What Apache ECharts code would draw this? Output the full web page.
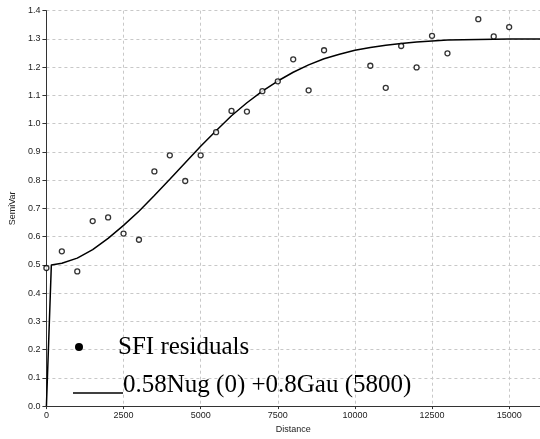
<!DOCTYPE html>
<html>
<head>
<meta charset="utf-8">
<script src="https://cdn.jsdelivr.net/npm/echarts@6/dist/echarts.min.js"></script>
<style>
html,body{margin:0;padding:0;background:#fff;}
#chart{width:540px;height:439px;}
</style>
</head>
<body>
<div id="chart"></div>
<script>
// Empirical semivariogram points (distance, semivariance)
var pointDistances = [0, 500, 1000, 1500, 2000, 2500, 3000, 3500, 4000, 4500, 5000, 5500, 6000, 6500, 7000, 7500, 8000, 8500, 9000, 10500, 11000, 11500, 12000, 12500, 13000, 14000, 14500, 15000];
var pointValues = [0.489, 0.548, 0.477, 0.655, 0.668, 0.611, 0.589, 0.831, 0.888, 0.797, 0.888, 0.970, 1.045, 1.043, 1.115, 1.150, 1.228, 1.118, 1.260, 1.205, 1.127, 1.275, 1.199, 1.311, 1.249, 1.370, 1.309, 1.342];

// Fitted model curve
var curveDistances = [0, 160, 500, 1000, 1500, 2000, 2500, 3000, 3500, 4000, 4500, 5000, 5500, 6000, 6500, 7000, 7500, 8000, 8500, 9000, 9500, 10000, 10500, 11000, 11500, 12000, 12500, 13000, 14000, 15000, 16000];
var curveValues = [0, 0.500, 0.506, 0.524, 0.554, 0.594, 0.640, 0.690, 0.746, 0.803, 0.862, 0.920, 0.975, 1.028, 1.074, 1.115, 1.151, 1.182, 1.208, 1.230, 1.246, 1.260, 1.270, 1.278, 1.284, 1.289, 1.293, 1.296, 1.298, 1.300, 1.300];

var seriesNames = ['SFI residuals', '0.58Nug (0) +0.8Gau (5800)'];
var xAxisTitle = 'Distance';
var yAxisTitle = 'SemiVar';

var scatterData = pointDistances.map(function (d, i) { return [d, pointValues[i]]; });
var lineData = curveDistances.map(function (d, i) { return [d, curveValues[i]]; });

var chart = echarts.init(document.getElementById('chart'), null, {renderer: 'canvas'});
var axisFont = 'Liberation Sans';
chart.setOption({
  animation: false,
  backgroundColor: '#ffffff',
  grid: {left: 43.5, right: 0, top: 10.7, bottom: 27.3, containLabel: false},
  xAxis: {
    type: 'value', min: 0, max: 16000, interval: 2500,
    name: xAxisTitle, nameLocation: 'middle', nameGap: 17,
    nameTextStyle: {fontFamily: axisFont, fontSize: 9, color: '#222'},
    axisLine: {show: true, lineStyle: {color: '#333', width: 1}},
    axisTick: {show: true, length: 3, lineStyle: {color: '#333'}},
    axisLabel: {fontFamily: axisFont, fontSize: 9, color: '#222', margin: 5, showMaxLabel: false,
      formatter: function (v) { return String(Math.round(v)); }},
    splitLine: {show: true, lineStyle: {color: '#c8c8c8', type: [3, 3], width: 1}}
  },
  yAxis: {
    type: 'value', min: 0, max: 1.4, interval: 0.1,
    name: yAxisTitle, nameLocation: 'middle', nameGap: 26, nameRotate: 90,
    nameTextStyle: {fontFamily: axisFont, fontSize: 9, color: '#222'},
    axisLine: {show: true, lineStyle: {color: '#333', width: 1}},
    axisTick: {show: true, length: 4, lineStyle: {color: '#333'}},
    axisLabel: {fontFamily: axisFont, fontSize: 9, color: '#222', margin: 6,
      formatter: function (v) { return v.toFixed(1); }},
    splitLine: {show: true, lineStyle: {color: '#c8c8c8', type: [3, 3], width: 1}}
  },
  series: [
    {
      name: seriesNames[1], type: 'line', data: lineData,
      showSymbol: false, symbol: 'none', smooth: false,
      lineStyle: {color: '#000', width: 1.5}, z: 2
    },
    {
      name: seriesNames[0], type: 'scatter', data: scatterData,
      symbol: 'circle', symbolSize: 5,
      itemStyle: {color: '#fff', borderColor: '#000', borderWidth: 1.3}, z: 3
    }
  ],
  graphic: [
    {type: 'circle', shape: {cx: 79, cy: 347, r: 4}, style: {fill: '#000'}, z: 10},
    {type: 'text', x: 118, y: 347, style: {text: seriesNames[0], fontFamily: 'Liberation Serif', fontSize: 25, fill: '#000', verticalAlign: 'middle', align: 'left'}, z: 10},
    {type: 'line', shape: {x1: 73, y1: 393, x2: 123, y2: 393}, style: {stroke: '#000', lineWidth: 1.5}, z: 10},
    {type: 'text', x: 123, y: 385, style: {text: seriesNames[1], fontFamily: 'Liberation Serif', fontSize: 25, fill: '#000', verticalAlign: 'middle', align: 'left'}, z: 10}
  ]
});
</script>
</body>
</html>
